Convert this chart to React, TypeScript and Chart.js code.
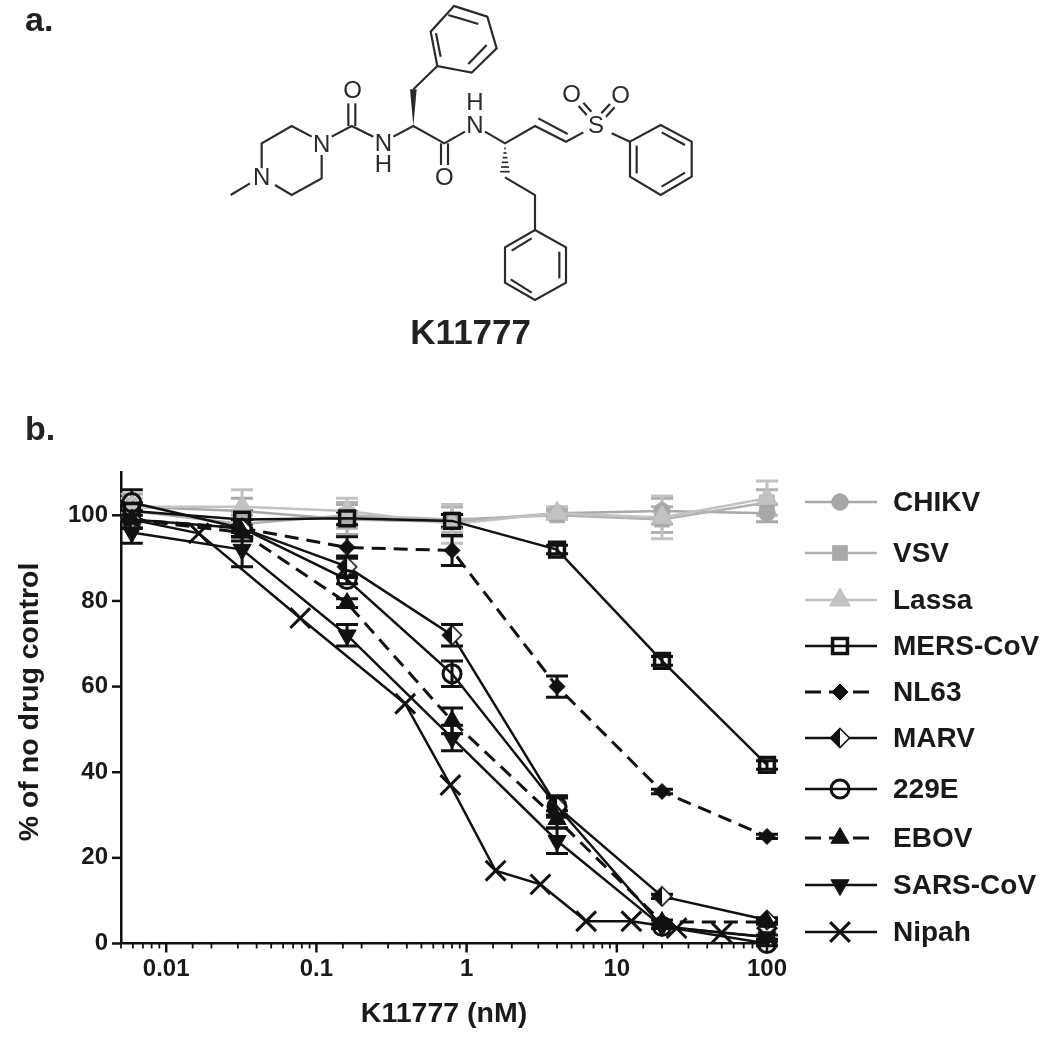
import React, { useEffect, useRef } from "react";
import { Chart, registerables } from "chart.js";
import { drawPoint } from "chart.js/helpers";

Chart.register(...registerables);

const seriesNames = ["CHIKV", "VSV", "Lassa", "MERS-CoV", "NL63", "MARV", "229E", "EBOV", "SARS-CoV", "Nipah"];
const doses = [0.0059, 0.032, 0.16, 0.8, 4, 20, 100];
const nipahDoses = [0.0059, 0.0165, 0.078, 0.39, 0.78, 1.56, 3.1, 6.25, 12.5, 25, 50, 100];

const chikv = [102, 101, 99, 98.5, 100.5, 101, 100.5];
const vsv = [101, 98, 100, 99, 100, 99, 103];
const lassa = [102, 102, 101, 98, 100.5, 99.5, 104];
const mers = [101, 99, 99.3, 98.7, 92, 66, 41.7];
const nl63 = [99, 97, 92.5, 91.8, 60, 35.5, 25];
const marv = [99, 97, 88, 72, 32, 11, 5.5];
const hcov229e = [103, 97, 85, 63, 32, 4, 0];
const ebov = [99, 96, 79.5, 52, 29, 5, 5];
const sars = [96, 92, 72, 48, 24, 4, 1.5];
const nipah = [99, 95.8, 76, 56, 37, 17, 13.8, 5.2, 5.2, 3.6, 2.5, 1.5];

const chikvErr = [3, 3, 3.5, 3.5, 1, 3, 2];
const vsvErr = [2, 2, 3, 3, 1, 3, 3];
const lassaErr = [2, 4, 3, 4.5, 1.5, 5, 4];
const mersErr = [2, 2, 1.5, 1.5, 1, 1, 1];
const nl63Err = [2, 2, 2.5, 3.5, 2.5, 0.5, 0.5];
const marvErr = [2, 2, 2.5, 2.5, 2, 0.5, 0.5];
const hcovErr = [3, 2, 1, 3, 2.5, 0.5, 0.5];
const ebovErr = [2, 2, 1, 3, 2, 0.5, 0.5];
const sarsErr = [2.5, 4, 2.5, 3, 3, 0.5, 0.5];

const yTicks = [0, 20, 40, 60, 80, 100];
const xTickLabels = [0.01, 0.1, 1, 10, 100];
const xTitle = "K11777 (nM)";
const yTitle = "% of no drug control";
const compoundName = "K11777";

const FONT = '"Liberation Sans", Arial, sans-serif';
const CLEAR = "rgba(255,255,255,0)";

function halfDiamond(): HTMLCanvasElement {
  const c = document.createElement("canvas");
  c.width = 22;
  c.height = 22;
  const g = c.getContext("2d")!;
  const path = () => {
    g.beginPath();
    g.moveTo(11, 1.5);
    g.lineTo(20.5, 11);
    g.lineTo(11, 20.5);
    g.lineTo(1.5, 11);
    g.closePath();
  };
  path();
  g.fillStyle = "#fff";
  g.fill();
  g.save();
  path();
  g.clip();
  g.fillStyle = "#111";
  g.fillRect(0, 0, 11, 22);
  g.restore();
  path();
  g.lineWidth = 1.6;
  g.strokeStyle = "#111";
  g.stroke();
  return c;
}

type Style = {
  color: string; fill: string; point: any; radius: number; rotation?: number;
  dash: number[]; bw: number; lw: number; xs: number[]; ys: number[]; err?: number[];
};

function Molecule() {
  const bonds = [
    "M92 585L150 550", "M185 505L185 430L275 378L335 410", "M365 465L365 535L275 585L225 555",
    "M395 410L455 378L520 410", "M445 378V310", "M466 378V310",
    "M580 410L640 378L733 430L795 395", "M723 430V495", "M744 430V495",
    "M855 395L915 430L1005 378L1098 425L1150 397", "M1015 355L1103 402",
    "M640 268L712 198",
    "M712 198L692 95L762 18L862 50L890 145L815 218Z", "M745 45L835 72", "M860 135L805 192", "M722 170L708 100",
    "M915 532L1005 585V690", "M1005 690L1098 742V848L1005 900L915 848V742Z", "M1078 755V835", "M995 878L932 838", "M935 752L995 715",
    "M1235 400L1290 425", "M1290 425L1382 375L1475 425V530L1382 585L1290 530Z", "M1385 397L1455 435", "M1455 518L1385 560", "M1310 520V437",
    "M1160 345L1136 318", "M1174 335L1150 308", "M1204 340L1230 312", "M1218 350L1244 322",
  ];
  const hashes = [445, 459, 473, 487, 501, 515];
  const atoms: [string, number, number][] = [
    ["N", 185, 556], ["N", 365, 455], ["O", 458, 293], ["N", 550, 453], ["H", 550, 515],
    ["O", 733, 555], ["H", 825, 330], ["N", 825, 400], ["S", 1188, 398], ["O", 1115, 306], ["O", 1262, 310],
  ];
  return (
    <svg viewBox="0 0 1560 1080" width={520} height={360} style={{ position: "absolute", left: 200, top: 0 }}>
      <g fill="none" stroke="#2a2a2a" strokeWidth={6.5}>
        {bonds.map((d, i) => <path key={i} d={d} />)}
      </g>
      <path d="M640 378L630 268L650 268Z" fill="#2a2a2a" />
      {hashes.map((y, i) => (
        <line key={i} x1={915 - (i + 1) * 2.4} x2={915 + (i + 1) * 2.4} y1={y} y2={y} stroke="#2a2a2a" strokeWidth={5} />
      ))}
      {atoms.map(([t, x, y], i) => (
        <text key={i} x={x} y={y} textAnchor="middle" fontFamily={FONT} fontSize={72} fill="#2a2a2a">{t}</text>
      ))}
      <text x={812} y={1032} textAnchor="middle" fontFamily={FONT} fontWeight="bold" fontSize={105} fill="#222">{compoundName}</text>
    </svg>
  );
}

export default function App() {
  const ref = useRef<HTMLCanvasElement>(null);
  useEffect(() => {
    const diamond = halfDiamond();
    const black = "#111";
    const styles: Style[] = [
      { color: "#a8a8a8", fill: "#a8a8a8", point: "circle", radius: 8.3, dash: [], bw: 1, lw: 2.5, xs: doses, ys: chikv, err: chikvErr },
      { color: "#b2b2b2", fill: "#a8a8a8", point: "rect", radius: 10.5, dash: [], bw: 1, lw: 2.5, xs: doses, ys: vsv, err: vsvErr },
      { color: "#c2c2c2", fill: "#c2c2c2", point: "triangle", radius: 12, dash: [], bw: 1, lw: 2.5, xs: doses, ys: lassa, err: lassaErr },
      { color: black, fill: CLEAR, point: "rect", radius: 10.5, dash: [], bw: 3.5, lw: 2.5, xs: doses, ys: mers, err: mersErr },
      { color: black, fill: black, point: "rectRot", radius: 8, dash: [14, 8], bw: 1, lw: 3, xs: doses, ys: nl63, err: nl63Err },
      { color: black, fill: black, point: diamond, radius: 10, dash: [], bw: 1, lw: 2.5, xs: doses, ys: marv, err: marvErr },
      { color: black, fill: CLEAR, point: "circle", radius: 9, dash: [], bw: 3, lw: 2.5, xs: doses, ys: hcov229e, err: hcovErr },
      { color: black, fill: black, point: "triangle", radius: 10.5, dash: [14, 8], bw: 1, lw: 3, xs: doses, ys: ebov, err: ebovErr },
      { color: black, fill: black, point: "triangle", radius: 10.5, rotation: 180, dash: [], bw: 1, lw: 2.5, xs: doses, ys: sars, err: sarsErr },
      { color: black, fill: black, point: "crossRot", radius: 14, dash: [], bw: 3, lw: 2.5, xs: nipahDoses, ys: nipah },
    ];

    const errorBars = {
      id: "errorBars",
      beforeDatasetsDraw(chart: any) {
        const { ctx, scales } = chart;
        ctx.save();
        styles.forEach((s) => {
          if (!s.err) return;
          ctx.strokeStyle = s.color;
          ctx.lineWidth = 3;
          s.xs.forEach((x, i) => {
            const e = s.err![i];
            const px = scales.x.getPixelForValue(x);
            const top = scales.y.getPixelForValue(s.ys[i] + e);
            const bot = scales.y.getPixelForValue(s.ys[i] - e);
            ctx.beginPath();
            ctx.moveTo(px, top);
            ctx.lineTo(px, bot);
            ctx.moveTo(px - 11, top);
            ctx.lineTo(px + 11, top);
            ctx.moveTo(px - 11, bot);
            ctx.lineTo(px + 11, bot);
            ctx.stroke();
          });
        });
        ctx.restore();
      },
    };

    const axisTicks = {
      id: "axisTicks",
      afterDraw(chart: any) {
        const { ctx, scales, chartArea } = chart;
        ctx.save();
        ctx.strokeStyle = black;
        scales.x.ticks.forEach((t: any) => {
          const major = xTickLabels.includes(t.value);
          const px = scales.x.getPixelForValue(t.value);
          ctx.lineWidth = major ? 2.5 : 1.8;
          ctx.beginPath();
          ctx.moveTo(px, chartArea.bottom);
          ctx.lineTo(px, chartArea.bottom + (major ? 9 : 5));
          ctx.stroke();
        });
        ctx.lineWidth = 2.5;
        yTicks.forEach((v) => {
          const py = scales.y.getPixelForValue(v);
          ctx.beginPath();
          ctx.moveTo(chartArea.left, py);
          ctx.lineTo(chartArea.left - 9, py);
          ctx.stroke();
        });
        ctx.restore();
      },
    };

    const axisTitles = {
      id: "axisTitles",
      afterDraw(chart: any) {
        const { ctx, chartArea } = chart;
        ctx.save();
        ctx.fillStyle = "#1a1a1a";
        ctx.font = `bold 28.5px ${FONT}`;
        ctx.textAlign = "center";
        ctx.textBaseline = "alphabetic";
        ctx.fillText(xTitle, (chartArea.left + chartArea.right) / 2, chartArea.bottom + 78);
        ctx.translate(38, (chartArea.top + chartArea.bottom) / 2 - 6);
        ctx.rotate(-Math.PI / 2);
        ctx.fillText(yTitle, 0, 0);
        ctx.restore();
      },
    };

    const legendRows = [502, 553, 600, 646, 692, 738, 789, 838, 885, 932];
    const sideLegend = {
      id: "sideLegend",
      afterDraw(chart: any) {
        const { ctx } = chart;
        ctx.save();
        styles.forEach((s, i) => {
          const y = legendRows[i];
          ctx.strokeStyle = s.color;
          ctx.lineWidth = s.lw;
          ctx.setLineDash(s.dash.length ? [16, 8] : []);
          ctx.beginPath();
          ctx.moveTo(805, y);
          ctx.lineTo(877, y);
          ctx.stroke();
          ctx.setLineDash([]);
          ctx.fillStyle = s.fill;
          ctx.strokeStyle = s.color;
          ctx.lineWidth = s.bw;
          drawPoint(ctx, { pointStyle: s.point, radius: s.radius, rotation: s.rotation || 0, borderWidth: s.bw }, 840, y);
          ctx.font = `bold 28px ${FONT}`;
          ctx.fillStyle = "#1a1a1a";
          ctx.textBaseline = "middle";
          ctx.textAlign = "left";
          ctx.fillText(seriesNames[i], 893, y + 1);
        });
        ctx.restore();
      },
    };

    const chart = new Chart(ref.current!, {
      type: "line",
      data: {
        datasets: styles.map((s, i) => ({
          label: seriesNames[i],
          data: s.xs.map((x, k) => ({ x, y: s.ys[k] })),
          borderColor: s.color,
          backgroundColor: s.fill,
          borderWidth: s.lw,
          borderDash: s.dash,
          pointStyle: s.point,
          pointRadius: s.radius,
          pointRotation: s.rotation || 0,
          pointBackgroundColor: s.fill,
          pointBorderColor: s.color,
          pointBorderWidth: s.bw,
          tension: 0,
          fill: false,
          clip: false as any,
          order: styles.length - i,
        })),
      },
      plugins: [errorBars, axisTicks, axisTitles, sideLegend],
      options: {
        animation: false,
        responsive: false,
        events: [],
        layout: { padding: { left: 0, top: 472.5, right: 283, bottom: 0 } },
        plugins: { legend: { display: false }, tooltip: { enabled: false } },
        scales: {
          x: {
            type: "logarithmic",
            min: 0.005,
            max: 100,
            afterFit: (s: any) => { s.height = 94.5; },
            grid: { display: false },
            border: { display: true, color: black, width: 2.5 },
            ticks: {
              autoSkip: false,
              maxRotation: 0,
              padding: 3,
              color: "#1a1a1a",
              font: { family: FONT, weight: "bold", size: 24 },
              callback: (v: any) => (xTickLabels.includes(Number(v)) ? String(v) : ""),
            },
          },
          y: {
            min: 0,
            max: 110,
            afterFit: (s: any) => { s.width = 121; },
            grid: { display: false },
            border: { display: true, color: black, width: 2.5 },
            ticks: {
              autoSkip: false,
              padding: 5,
              color: "#1a1a1a",
              font: { family: FONT, weight: "bold", size: 24 },
              stepSize: 20,
              callback: (v: any) => (yTicks.includes(Number(v)) ? String(v) : ""),
            },
          },
        },
      } as any,
    } as any);
    return () => chart.destroy();
  }, []);

  const letter: React.CSSProperties = { position: "absolute", left: 25, fontFamily: FONT, fontWeight: "bold", fontSize: 34, color: "#222", lineHeight: "34px" };
  return (
    <div style={{ position: "absolute", left: 0, top: 0, width: 1050, height: 1038, background: "#fff", overflow: "hidden", filter: "blur(0.5px)" }}>
      <canvas ref={ref} width={1050} height={1038} style={{ display: "block", position: "absolute", left: 0, top: 0 }} />
      <Molecule />
      <div style={{ ...letter, top: 2 }}>a.</div>
      <div style={{ ...letter, top: 411 }}>b.</div>
    </div>
  );
}
